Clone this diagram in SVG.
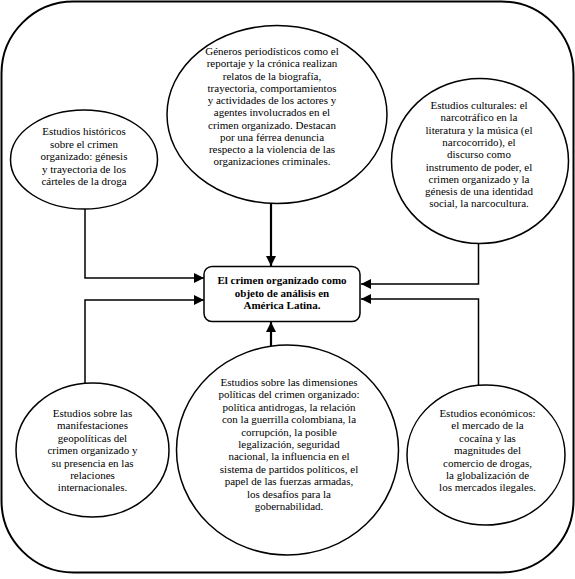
<svg xmlns="http://www.w3.org/2000/svg" width="575" height="579" viewBox="0 0 575 579">
<defs>
<marker id="ah" viewBox="0 0 10 10" refX="10" refY="5" markerWidth="10" markerHeight="10" markerUnits="userSpaceOnUse" orient="auto">
<path d="M0,0 L10,5 L0,10 z" fill="#000"/>
</marker>
</defs>
<style>
.n{fill:#fff;stroke:#000;stroke-width:1.5}
.t{font-family:"Liberation Serif","Times New Roman",serif;font-size:11px;fill:#000;text-anchor:middle}
.b{font-weight:bold}
.c{fill:none;stroke:#000;stroke-width:1.5}
.c2{fill:none;stroke:#000;stroke-width:2.2}
</style>
<rect x="1.5" y="1.5" width="572" height="571" rx="72" ry="72" fill="#fff" stroke="#000" stroke-width="2"/>
<g id="connectors">
<path class="c2" d="M271,203 V266" marker-end="url(#ah)"/>
<path class="c2" d="M271,346 V322" marker-end="url(#ah)"/>
<path class="c" d="M85,209 V278 H204" marker-end="url(#ah)"/>
<path class="c" d="M85,385 V300 H204" marker-end="url(#ah)"/>
<path class="c" d="M478.5,243 V284 H361" marker-end="url(#ah)"/>
<path class="c" d="M478.5,386 V299 H361" marker-end="url(#ah)"/>
</g>
<g id="center">
<rect class="n" x="204" y="266.5" width="156" height="55" rx="8" ry="8"/>
<text class="t b" font-family="Liberation Serif, serif"><tspan x="282" y="284">El crimen organizado como</tspan><tspan x="282" y="296.5">objeto de análisis en</tspan><tspan x="282" y="309">América Latina.</tspan></text>
</g>
<g id="generos">
<ellipse class="n" cx="277" cy="114.5" rx="110" ry="89"/>
<text class="t" font-family="Liberation Serif, serif"><tspan x="272" y="55">Géneros periodísticos como el</tspan><tspan x="272" y="67.3">reportaje y la crónica realizan</tspan><tspan x="272" y="79.5">relatos de la biografía,</tspan><tspan x="272" y="91.8">trayectoria, comportamientos</tspan><tspan x="272" y="104">y actividades de los actores y</tspan><tspan x="272" y="116.3">agentes involucrados en el</tspan><tspan x="272" y="128.5">crimen organizado. Destacan</tspan><tspan x="272" y="140.8">por una férrea denuncia</tspan><tspan x="272" y="153">respecto a la violencia de las</tspan><tspan x="272" y="165.3">organizaciones criminales.</tspan></text>
</g>
<g id="historicos">
<ellipse class="n" cx="84" cy="159.5" rx="73.5" ry="49.5"/>
<text class="t" font-family="Liberation Serif, serif"><tspan x="84" y="135">Estudios históricos</tspan><tspan x="84" y="147.5">sobre el crimen</tspan><tspan x="84" y="160">organizado: génesis</tspan><tspan x="84" y="172.5">y trayectoria de los</tspan><tspan x="84" y="185">cárteles de la droga</tspan></text>
</g>
<g id="culturales">
<ellipse class="n" cx="480" cy="161" rx="88.5" ry="82.5"/>
<text class="t" font-family="Liberation Serif, serif"><tspan x="479" y="109">Estudios culturales: el</tspan><tspan x="479" y="121.3">narcotráfico en la</tspan><tspan x="479" y="133.6">literatura y la música (el</tspan><tspan x="479" y="145.9">narcocorrido), el</tspan><tspan x="479" y="158.2">discurso como</tspan><tspan x="479" y="170.5">instrumento de poder, el</tspan><tspan x="479" y="182.8">crimen organizado y la</tspan><tspan x="479" y="195.1">génesis de una identidad</tspan><tspan x="479" y="207.4">social, la narcocultura.</tspan></text>
</g>
<g id="geopoliticos">
<ellipse class="n" cx="92.5" cy="450" rx="76.5" ry="67"/>
<text class="t" font-family="Liberation Serif, serif"><tspan x="92.5" y="417">Estudios sobre las</tspan><tspan x="92.5" y="429.4">manifestaciones</tspan><tspan x="92.5" y="441.8">geopolíticas del</tspan><tspan x="92.5" y="454.2">crimen organizado y</tspan><tspan x="92.5" y="466.6">su presencia en las</tspan><tspan x="92.5" y="479">relaciones</tspan><tspan x="92.5" y="491.4">internacionales.</tspan></text>
</g>
<g id="politicos">
<ellipse class="n" cx="287.5" cy="450" rx="111" ry="105"/>
<text class="t" font-family="Liberation Serif, serif"><tspan x="289" y="386">Estudios sobre las dimensiones</tspan><tspan x="289" y="398.4">políticas del crimen organizado:</tspan><tspan x="289" y="410.8">política antidrogas, la relación</tspan><tspan x="289" y="423.2">con la guerrilla colombiana, la</tspan><tspan x="289" y="435.6">corrupción, la posible</tspan><tspan x="289" y="448">legalización, seguridad</tspan><tspan x="289" y="460.4">nacional, la influencia en el</tspan><tspan x="289" y="472.8">sistema de partidos políticos, el</tspan><tspan x="289" y="485.2">papel de las fuerzas armadas,</tspan><tspan x="289" y="497.6">los desafíos para la</tspan><tspan x="289" y="510">gobernabilidad.</tspan></text>
</g>
<g id="economicos">
<ellipse class="n" cx="486" cy="455" rx="79" ry="70"/>
<text class="t" font-family="Liberation Serif, serif"><tspan x="487.5" y="417">Estudios económicos:</tspan><tspan x="487.5" y="429.4">el mercado de la</tspan><tspan x="487.5" y="441.8">cocaína y las</tspan><tspan x="487.5" y="454.2">magnitudes del</tspan><tspan x="487.5" y="466.6">comercio de drogas,</tspan><tspan x="487.5" y="479">la globalización de</tspan><tspan x="487.5" y="491.4">los mercados ilegales.</tspan></text>
</g>
</svg>
